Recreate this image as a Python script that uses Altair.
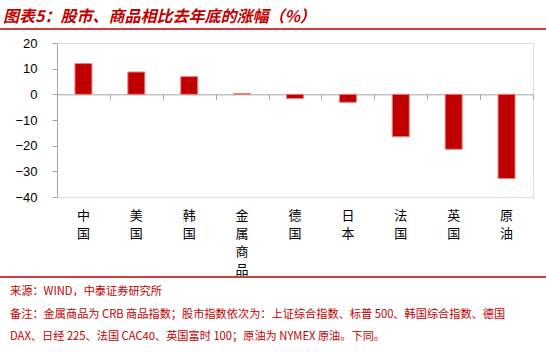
import altair as alt
import pandas as pd

categories = ["中国", "美国", "韩国", "金属商品", "德国", "日本", "法国", "英国", "原油"]
values = [12.0, 8.7, 6.9, 0.3, -1.6, -3.1, -16.5, -21.4, -32.8]
y_ticks = [20, 10, 0, -10, -20, -30, -40]

title_text = "图表5：股市、商品相比去年底的涨幅（%）"
source_text = "来源：WIND，中泰证券研究所"
note_line1 = "备注：金属商品为 CRB 商品指数；股市指数依次为：上证综合指数、标普 500、韩国综合指数、德国"
note_line2 = "DAX、日经 225、法国 CAC40、英国富时 100；原油为 NYMEX 原油。下同。"

df = pd.DataFrame({"cat": categories, "val": values})

RED = "#c00000"
GRAY = "#a6a6a6"
CJK = "Noto Sans CJK SC"
W, H = 476, 154
PL, PT = 57, 43
zero_offset = -(H - H * 20 / 60)

xscale = alt.Scale(paddingInner=0, paddingOuter=0)
yenc = alt.Y(
    "val:Q",
    scale=alt.Scale(domain=[-40, 20], nice=False),
    axis=alt.Axis(values=y_ticks, grid=False, domainColor=GRAY, tickColor=GRAY,
                  tickSize=5, labelFontSize=13, labelFont="Liberation Sans",
                  labelColor="black", labelPadding=15, title=None),
)

bars = alt.Chart(df).mark_bar(size=17, color=RED, stroke="#e88080", strokeWidth=1).encode(
    x=alt.X("cat:N", sort=categories, scale=xscale,
            axis=alt.Axis(orient="bottom", domain=False, ticks=False, labelAngle=0,
                          labelExpr="split(datum.label, '')", labelLineHeight=18,
                          labelPadding=12, labelFont=CJK, labelFontSize=13,
                          labelColor="black", labelBaseline="top", title=None)),
    y=yenc,
)

zero_axis = alt.Chart(df).mark_bar(size=17, opacity=0).encode(
    x=alt.X("cat:N", sort=categories, scale=xscale,
            axis=alt.Axis(orient="bottom", offset=zero_offset, labels=False,
                          domainColor=GRAY, tickColor=GRAY, tickSize=5,
                          tickBand="extent", title=None)),
    y=yenc,
)

base = alt.Chart(pd.DataFrame({"t": [0]}))

title = base.mark_text(align="left", baseline="middle", font=CJK, fontSize=16,
                       fontWeight="bold", fontStyle="italic", color=RED).encode(
    x=alt.value(3 - PL), y=alt.value(17 - PT), text=alt.value(title_text))

top_line = base.mark_rule(color=RED, strokeWidth=1.5).encode(
    x=alt.value(-PL), x2=alt.value(546 - PL), y=alt.value(29 - PT))
bottom_line = base.mark_rule(color=RED, strokeWidth=1.5).encode(
    x=alt.value(-PL), x2=alt.value(546 - PL), y=alt.value(277 - PT))

def note(txt, ypos):
    return base.mark_text(align="left", baseline="middle", font=CJK, fontSize=11.2,
                          color=RED).encode(
        x=alt.value(10 - PL), y=alt.value(ypos - PT), text=alt.value(txt))

chart = alt.layer(
    bars, zero_axis, title, top_line, bottom_line,
    note(source_text, 292), note(note_line1, 315), note(note_line2, 337),
).resolve_axis(x="independent").properties(
    width=W, height=H,
    autosize=alt.AutoSizeParams(type="none"),
    padding={"left": PL, "top": PT, "right": 546 - PL - W, "bottom": 352 - PT - H},
).configure_view(stroke=None).configure(background="white")

chart.save("out.html", embed_options={"renderer": "svg", "actions": False})
